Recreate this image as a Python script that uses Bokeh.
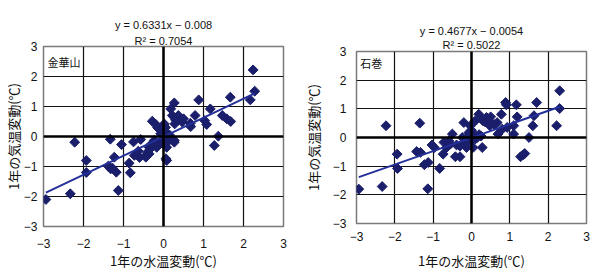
from bokeh.plotting import figure
from bokeh.layouts import row, column
from bokeh.models import FixedTicker, Span, Label, ColumnDataSource, Title
from bokeh.embed import file_html
from bokeh.resources import INLINE
import math

# ---------------- data ----------------
ticks = [-3, -2, -1, 0, 1, 2, 3]

kinkasan_name = "金華山"
kinkasan_x = [-2.94, -2.33, -2.22, -1.93, -1.93, -1.33, -1.38, -1.32, -1.23, -1.18,
              -1.13, -1.05, -0.86, -0.83, -0.75, -0.73, -0.63, -0.57, -0.44, -0.40,
              -0.36, -0.23, -0.28, -0.19, -0.11, -0.07, -0.08, -0.01, 0.02, 0.08,
              0.08, 0.10, 0.14, 0.18, 0.22, 0.27, 0.28, 0.37, 0.47, 0.50,
              0.27, 0.67, 0.68, 0.79, 0.88, 1.03, 1.08, 1.17, 1.27, 1.37,
              1.47, 1.58, 1.68, 1.67, 2.17, 2.24, 2.28, -0.44, -0.36, -0.33,
              -0.17, 0.06, 0.27, -0.15, -0.05, 0.05, 0.00, 0.05, 0.12, 0.15,
              -0.10, 0.30, -0.30, -0.60, -1.28]
kinkasan_y = [-2.10, -1.91, -0.19, -0.80, -1.20, -0.09, -0.99, -1.08, -0.69, -1.19,
              -1.80, -0.27, -0.89, -1.21, -0.18, -0.63, -0.49, -0.10, -0.63, -0.52,
              -0.36, -0.13, 0.51, 0.40, 0.26, 0.09, -0.24, -0.08, 0.42, -0.36,
              -0.80, 0.09, -0.13, 0.92, 0.70, 1.12, 0.42, 0.70, 0.48, 0.59,
              -0.13, 0.44, 0.33, 0.70, 1.22, 0.53, 0.40, 0.92, -0.30, 0.01,
              0.70, 0.59, 0.50, 1.31, 1.22, 2.22, 1.51, -0.69, -0.58, -0.41,
              -0.36, -0.74, -0.19, 0.30, 0.20, 0.30, 0.05, -0.15, -0.05, 0.05,
              -0.20, 0.55, -0.25, -0.70, -1.05]
kinkasan_slope = 0.6331
kinkasan_intercept = -0.008
kinkasan_r2 = 0.7054

ishinomaki_name = "石巻"
ishinomaki_x = [-2.94, -2.33, -2.23, -1.94, -1.93, -1.35, -1.43, -1.33, -1.23, -1.13,
                -1.14, -1.03, -0.97, -0.83, -0.74, -0.72, -0.65, -0.59, -0.55, -0.50,
                -0.42, -0.30, -0.39, -0.20, -0.24, -0.13, -0.11, -0.07, -0.03, 0.00,
                0.04, 0.06, 0.10, 0.15, 0.19, 0.28, 0.30, 0.39, 0.50, 0.48,
                0.67, 0.69, 0.78, 0.80, 0.89, 0.91, 0.93, 1.10, 1.10, 1.17,
                1.19, 1.28, 1.35, 1.39, 1.50, 1.60, 1.63, 1.70, 2.22, 2.30,
                2.30, 0.05, 0.10, -0.05, 0.20, 0.00, 0.35, 0.60, 0.45, -0.15,
                -0.30, 0.25]
ishinomaki_y = [-1.80, -1.71, 0.41, -0.58, -1.08, 0.50, -0.49, -0.52, -0.95, -0.87,
                -1.79, -0.26, -0.35, -1.08, -0.58, -0.17, -0.35, -0.12, -0.23, 0.12,
                -0.67, -0.67, -0.26, 0.52, 0.00, -0.35, 0.00, 0.17, 0.41, -0.12,
                -0.35, 0.12, 0.58, 0.00, 0.81, -0.35, 0.58, 0.70, 0.72, 0.41,
                0.52, 0.12, 0.81, 0.29, 1.22, 1.14, 0.35, 0.41, 0.12, 1.14,
                0.72, -0.67, -0.60, -0.56, 0.00, 0.41, 0.76, 1.22, 0.41, 1.63,
                1.01, 0.05, -0.05, -0.05, 0.10, 0.25, 0.55, 0.45, 0.60, -0.20,
                -0.30, 0.05]
ishinomaki_slope = 0.4677
ishinomaki_intercept = -0.0054
ishinomaki_r2 = 0.5022

MARK = "#1b1f6b"
LINE = "#24309a"
NUM_FONT = "Liberation Sans"
JP_FONT = "Noto Sans CJK JP"


def make_panel(name, xs, ys, slope, intercept, r2, cfg):
    p = figure(width=300, height=276, output_backend="svg", toolbar_location=None,
               x_range=(-3, 3), y_range=(-3, 3),
               min_border_left=cfg["bl"], min_border_right=cfg["br"],
               min_border_top=cfg["bt"], min_border_bottom=cfg["bb"],
               background_fill_color="white", border_fill_color="white")
    p.outline_line_color = "#7a7a7a"
    p.outline_line_width = 1.5
    for ax in (p.xaxis[0], p.yaxis[0]):
        ax.ticker = FixedTicker(ticks=ticks)
        ax.axis_line_color = None
        ax.major_tick_line_color = None
        ax.minor_tick_line_color = None
        ax.major_tick_out = 0
        ax.major_tick_in = 0
        ax.minor_tick_out = 0
        ax.minor_tick_in = 0
        ax.major_label_text_font = NUM_FONT
        ax.major_label_text_font_size = "12px"
        ax.major_label_text_color = "#111111"
        ax.axis_label_text_font = JP_FONT
        ax.axis_label_text_font_style = "normal"
        ax.axis_label_text_color = "#111111"
    p.xaxis.axis_label = "1年の水温変動(℃)"
    p.yaxis.axis_label = "1年の気温変動(℃)"
    p.xaxis.axis_label_text_font_size = cfg["lfs"]
    p.yaxis.axis_label_text_font_size = cfg["lfs"]
    p.xaxis.major_label_standoff = cfg["xls"]
    p.yaxis.major_label_standoff = cfg["yls"]
    p.xaxis.axis_label_standoff = cfg["xas"]
    p.yaxis.axis_label_standoff = cfg["yas"]
    p.xaxis.major_label_overrides = {t: str(t).replace("-", "−") for t in ticks}
    p.yaxis.major_label_overrides = {t: str(t).replace("-", "−") for t in ticks}
    for g in (p.xgrid[0], p.ygrid[0]):
        g.ticker = FixedTicker(ticks=ticks)
        g.grid_line_color = "#111111"
        g.grid_line_width = 1.2
    p.add_layout(Span(location=0, dimension="width", line_color="black", line_width=2.5))
    p.add_layout(Span(location=0, dimension="height", line_color="black", line_width=2.5))

    src = ColumnDataSource(dict(x=xs, y=ys))
    p.scatter("x", "y", source=src, marker="square", angle=math.pi / 4, size=7,
              fill_color=MARK, line_color=MARK)
    x0, x1 = min(xs), max(xs)
    p.line([x0, x1], [slope * x0 + intercept, slope * x1 + intercept],
           line_color=LINE, line_width=2)

    sign = "−" if intercept < 0 else "+"
    eq = f"y = {slope}x {sign} {abs(intercept)}"
    p.add_layout(Title(text=f"R² = {r2}", align="center", offset=cfg["toff"],
                       text_font=NUM_FONT, text_font_size="11px",
                       text_font_style="normal", text_color="#111111",
                       standoff=cfg["ts2"]), "above")
    p.add_layout(Title(text=eq, align="center", offset=cfg["toff"],
                       text_font=NUM_FONT, text_font_size="11px",
                       text_font_style="normal", text_color="#111111",
                       standoff=cfg["ts1"]), "above")
    p.add_layout(Label(x=-2.9, y=cfg["ny"], text=name, text_align="left",
                       text_baseline="middle", text_font=JP_FONT,
                       text_font_size="11px", text_color="#111111"))
    return p


left = make_panel(kinkasan_name, kinkasan_x, kinkasan_y, kinkasan_slope,
                  kinkasan_intercept, kinkasan_r2,
                  dict(bl=43, br=17, bt=46, bb=50, lfs="13px", xls=12, yls=6,
                       xas=0, yas=-2, toff=17, ts1=3, ts2=0, ny=2.48))
right = make_panel(ishinomaki_name, ishinomaki_x, ishinomaki_y, ishinomaki_slope,
                   ishinomaki_intercept, ishinomaki_r2,
                   dict(bl=56, br=14, bt=51, bb=53, lfs="13px", xls=8, yls=10,
                        xas=7, yas=7, toff=11, ts1=0, ts2=1, ny=2.61))

layout = row(column(left), column(right))
open("out.html", "w").write(file_html(layout, INLINE))
